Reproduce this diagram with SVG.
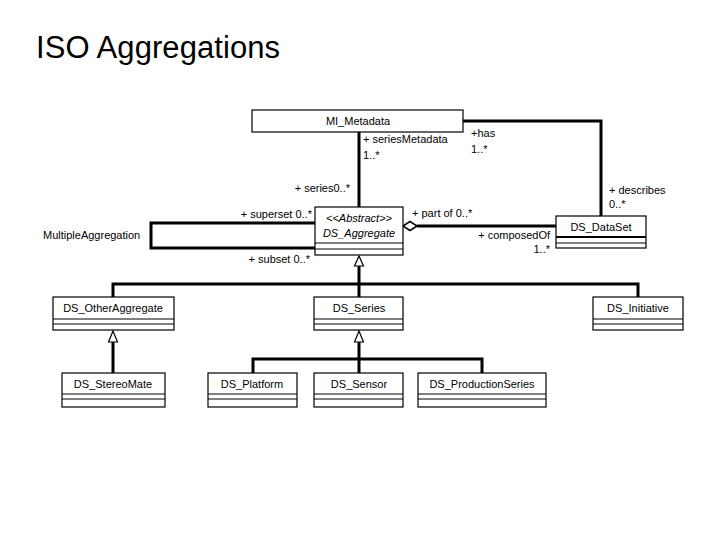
<svg xmlns="http://www.w3.org/2000/svg" width="720" height="540" viewBox="0 0 720 540">
<style>
  .box { fill: #fff; stroke: #000; stroke-width: 1.2; }
  .sep { stroke: #000; stroke-width: 1.2; }
  .conn { fill: none; stroke: #000; stroke-width: 3; }
  .tri { fill: #fff; stroke: #000; stroke-width: 1.2; }
  text { font-family: "Liberation Sans", Arial, sans-serif; font-size: 11px; fill: #000; }
  .name { text-anchor: middle; }
  .title { font-family: "Liberation Sans", Arial, sans-serif; font-size: 31px; }
</style>
<rect width="720" height="540" fill="#fff"/>
<text class="title" x="36" y="58" textLength="244">ISO Aggregations</text>

<g id="connectors">
  <!-- MI_Metadata to DS_Aggregate -->
  <line class="conn" x1="359" y1="132" x2="359" y2="207"/>
  <!-- MI_Metadata to DS_DataSet -->
  <polyline class="conn" points="463,121 601,121 601,216"/>
  <!-- self association -->
  <polyline class="conn" points="315,223 151,223 151,248 315,248"/>
  <!-- aggregation DS_Aggregate - DS_DataSet -->
  <line class="conn" x1="417" y1="226" x2="556" y2="226"/>
  <polygon points="403,226 410,221.5 417,226 410,230.5" fill="#fff" stroke="#000" stroke-width="1.5"/>
  <!-- generalization to DS_Aggregate -->
  <line class="conn" x1="359" y1="266" x2="359" y2="297"/>
  <polyline class="conn" points="113,297 113,284 638,284 638,297"/>
  <polygon class="tri" points="359,256 354.5,266 363.5,266"/>
  <!-- generalization to DS_OtherAggregate -->
  <line class="conn" x1="113" y1="342" x2="113" y2="373"/>
  <polygon class="tri" points="113,331 108.5,342 117.5,342"/>
  <!-- generalization to DS_Series -->
  <line class="conn" x1="359" y1="342" x2="359" y2="373"/>
  <polyline class="conn" points="253,373 253,359 482,359 482,373"/>
  <polygon class="tri" points="359,331 354.5,342 363.5,342"/>

  <text x="363" y="143">+ seriesMetadata</text>
  <text x="363" y="159">1..*</text>
  <text x="471" y="137">+has</text>
  <text x="471" y="153">1..*</text>
  <text x="350" y="192" text-anchor="end">+ series0..*</text>
  <text x="312" y="218" text-anchor="end">+ superset 0..*</text>
  <text x="310" y="263" text-anchor="end">+ subset 0..*</text>
  <text x="412" y="217">+ part of 0..*</text>
  <text x="609" y="194">+ describes</text>
  <text x="609" y="208">0..*</text>
  <text x="550" y="239" text-anchor="end">+ composedOf</text>
  <text x="550" y="253" text-anchor="end">1..*</text>
  <text x="43" y="239">MultipleAggregation</text>
</g>

<g id="MI_Metadata">
  <rect class="box" x="252" y="110" width="211" height="22"/>
  <text class="name" x="358" y="125">MI_Metadata</text>
</g>

<g id="DS_Aggregate">
  <rect class="box" x="315" y="207" width="88" height="48"/>
  <line class="sep" x1="315" y1="243" x2="403" y2="243"/>
  <line class="sep" x1="315" y1="249" x2="403" y2="249"/>
  <text class="name" x="359" y="222" font-style="italic">&lt;&lt;Abstract&gt;&gt;</text>
  <text class="name" x="359" y="237" font-style="italic">DS_Aggregate</text>
</g>

<g id="DS_DataSet">
  <rect class="box" x="556" y="216" width="90" height="32"/>
  <line x1="556" y1="237" x2="646" y2="237" stroke="#000" stroke-width="2.2"/>
  <line class="sep" x1="556" y1="243" x2="646" y2="243"/>
  <text class="name" x="601" y="231">DS_DataSet</text>
</g>

<g id="DS_OtherAggregate">
  <rect class="box" x="53" y="297" width="121" height="33"/>
  <line class="sep" x1="53" y1="319" x2="174" y2="319"/>
  <line class="sep" x1="53" y1="324" x2="174" y2="324"/>
  <text class="name" x="113" y="312">DS_OtherAggregate</text>
</g>

<g id="DS_Series">
  <rect class="box" x="314" y="297" width="89" height="33"/>
  <line class="sep" x1="314" y1="319" x2="403" y2="319"/>
  <line class="sep" x1="314" y1="324" x2="403" y2="324"/>
  <text class="name" x="359" y="312">DS_Series</text>
</g>

<g id="DS_Initiative">
  <rect class="box" x="593" y="297" width="90" height="33"/>
  <line class="sep" x1="593" y1="319" x2="683" y2="319"/>
  <line class="sep" x1="593" y1="324" x2="683" y2="324"/>
  <text class="name" x="638" y="312">DS_Initiative</text>
</g>

<g id="DS_StereoMate">
  <rect class="box" x="62" y="373" width="103" height="34"/>
  <line class="sep" x1="62" y1="394" x2="165" y2="394"/>
  <line class="sep" x1="62" y1="399" x2="165" y2="399"/>
  <text class="name" x="113" y="388">DS_StereoMate</text>
</g>

<g id="DS_Platform">
  <rect class="box" x="208" y="373" width="89" height="34"/>
  <line class="sep" x1="208" y1="394" x2="297" y2="394"/>
  <line class="sep" x1="208" y1="399" x2="297" y2="399"/>
  <text class="name" x="252" y="388">DS_Platform</text>
</g>

<g id="DS_Sensor">
  <rect class="box" x="314" y="373" width="89" height="34"/>
  <line class="sep" x1="314" y1="394" x2="403" y2="394"/>
  <line class="sep" x1="314" y1="399" x2="403" y2="399"/>
  <text class="name" x="359" y="388">DS_Sensor</text>
</g>

<g id="DS_ProductionSeries">
  <rect class="box" x="418" y="373" width="128" height="34"/>
  <line class="sep" x1="418" y1="394" x2="546" y2="394"/>
  <line class="sep" x1="418" y1="399" x2="546" y2="399"/>
  <text class="name" x="482" y="388">DS_ProductionSeries</text>
</g>
</svg>
